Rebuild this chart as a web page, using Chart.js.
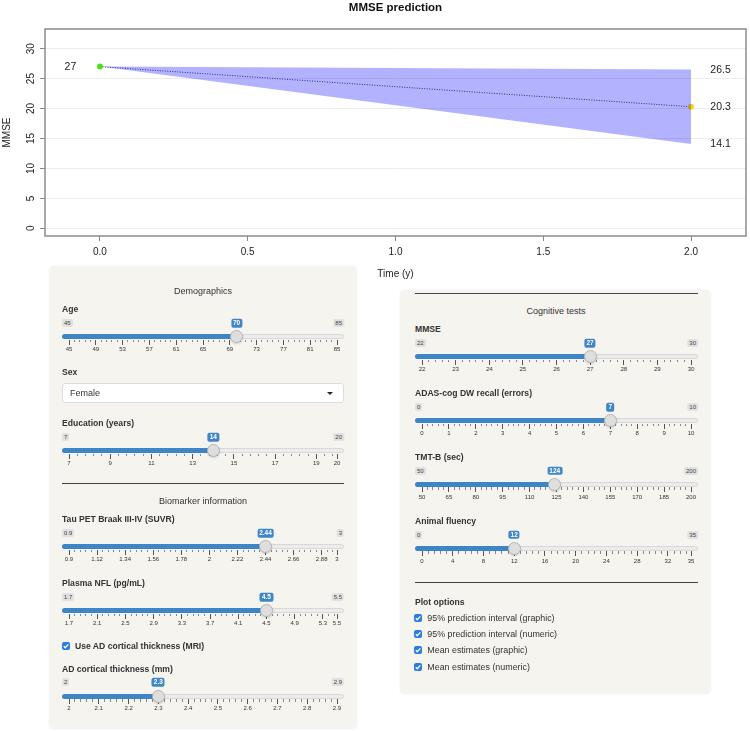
<!DOCTYPE html>
<html>
<head>
<meta charset="utf-8">
<script src="https://cdn.jsdelivr.net/npm/chart.js@4.4.1/dist/chart.umd.min.js"></script>
<style>
  html,body{margin:0;padding:0;background:#fff;}
  body{font-family:"Liberation Sans",Arial,sans-serif;color:#333;}
  #wrap{position:relative;width:750px;height:731px;overflow:hidden;}
  #chartBox{position:absolute;left:0;top:0;width:750px;height:285px;}
  .panel{position:absolute;background:#f6f4ef;box-shadow:0 0 3px rgba(0,0,0,0.13);border-radius:3px;}
</style>
</head>
<body>
<div id="wrap">
  <div id="chartBox"><canvas id="c" width="750" height="285"></canvas></div>
  <div class="panel" style="left:50px;top:267px;width:306px;height:461px;"></div>
  <div class="panel" style="left:401px;top:291px;width:309px;height:402px;"></div>
  <div id="ui"></div>
</div>
<script>
// ---------------- chart data ----------------
const chartTitle = 'MMSE prediction';
const xTitle = 'Time (y)';
const yTitle = 'MMSE';
const times = [0, 2];
const meanVals = [27, 20.3];
const upperVals = [27, 26.5];
const lowerVals = [27, 14.1];
const pointColors = ['#4be21a', '#ffd500'];
const xRange = [-0.186, 2.186];
const yRange = [-1.28, 33.28];
const startLabelX = -0.1;
const endLabelX = 2.1;

// ---------------- UI data ----------------
const leftSliders = [
  {name:'Age', y:336.7, min:45, max:85, val:70, ticks:[45,49,53,57,61,65,69,73,77,81,85]},
  {name:'Education (years)', y:450.7, min:7, max:20, val:14, ticks:[7,9,11,13,15,17,19,20]},
  {name:'Tau PET Braak III-IV (SUVR)', y:546.7, min:0.9, max:3, val:2.44, ticks:[0.9,1.12,1.34,1.56,1.78,2,2.22,2.44,2.66,2.88,3]},
  {name:'Plasma NFL (pg/mL)', y:610.7, min:1.7, max:5.5, val:4.5, ticks:[1.7,2.1,2.5,2.9,3.3,3.7,4.1,4.5,4.9,5.3,5.5]},
  {name:'AD cortical thickness (mm)', y:696, min:2, max:2.9, val:2.3, ticks:[2,2.1,2.2,2.3,2.4,2.5,2.6,2.7,2.8,2.9]}
];
const rightSliders = [
  {name:'MMSE', y:356.7, min:22, max:30, val:27, ticks:[22,23,24,25,26,27,28,29,30]},
  {name:'ADAS-cog DW recall (errors)', y:420.7, min:0, max:10, val:7, ticks:[0,1,2,3,4,5,6,7,8,9,10]},
  {name:'TMT-B (sec)', y:484.3, min:50, max:200, val:124, ticks:[50,65,80,95,110,125,140,155,170,185,200]},
  {name:'Animal fluency', y:548.3, min:0, max:35, val:12, ticks:[0,4,8,12,16,20,24,28,32,35]}
];
const plotOptions = ['95% prediction interval (graphic)','95% prediction interval (numeric)','Mean estimates (graphic)','Mean estimates (numeric)'];

// ---------------- chart ----------------
const FONT = '"Liberation Sans", Arial, sans-serif';
Chart.defaults.font.family = FONT;
const pts = vals => times.map((t,i)=>({x:t, y:vals[i]}));

const decor = {
  id:'decor',
  afterDraw(chart){
    const {ctx, chartArea:a, scales:{x, y}} = chart;
    ctx.save();
    ctx.strokeStyle = '#8c8c8c';
    ctx.lineWidth = 1.5;
    ctx.strokeRect(a.left, a.top, a.right - a.left, a.bottom - a.top);
    ctx.fillStyle = '#111';
    ctx.textAlign = 'center';
    ctx.textBaseline = 'middle';
    ctx.font = 'bold 11.5px ' + FONT;
    ctx.fillText(chartTitle, (a.left + a.right) / 2, 7.5);
    ctx.font = '10px ' + FONT;
    ctx.fillStyle = '#222';
    y.ticks.forEach(t => {
      ctx.save();
      ctx.translate(31, y.getPixelForValue(t.value));
      ctx.rotate(-Math.PI / 2);
      ctx.fillText(String(t.value), 0, 0);
      ctx.restore();
    });
    ctx.font = '10.5px ' + FONT;
    ctx.fillText(String(meanVals[0]), x.getPixelForValue(startLabelX), y.getPixelForValue(meanVals[0]));
    const last = times.length - 1;
    [upperVals[last], meanVals[last], lowerVals[last]].forEach(v => {
      ctx.fillText(v.toFixed(1), x.getPixelForValue(endLabelX), y.getPixelForValue(v));
    });
    ctx.restore();
  }
};

new Chart(document.getElementById('c'), {
  type:'line',
  data:{
    datasets:[
      {label:'lower', data:pts(lowerVals), borderWidth:0, borderColor:'transparent', pointRadius:0, fill:false, tension:0},
      {label:'upper', data:pts(upperVals), borderWidth:0, borderColor:'transparent', pointRadius:0, fill:'-1', backgroundColor:'rgba(0,0,255,0.3)', tension:0},
      {label:'mean', data:pts(meanVals), borderWidth:1, borderColor:'#3c3c62', borderDash:[1,1.5], tension:0,
       pointRadius:3, pointBorderWidth:0, pointBackgroundColor:pointColors, fill:false}
    ]
  },
  options:{
    responsive:false, animation:false, devicePixelRatio:1,
    layout:{padding:{top:29, right:4, bottom:0, left:0}},
    plugins:{legend:{display:false}, tooltip:{enabled:false}},
    scales:{
      x:{type:'linear', min:xRange[0], max:xRange[1],
         afterFit(s){ s.height = 49; },
         border:{display:false},
         grid:{drawOnChartArea:false, tickLength:5, color:'#888', tickColor:'#888'},
         ticks:{stepSize:0.5, includeBounds:false, padding:5, color:'#222', font:{size:10},
                callback:v=>Number(v).toFixed(1), maxRotation:0},
         title:{display:true, text:xTitle, color:'#222', font:{size:10}, padding:{top:4, bottom:5}}},
      y:{type:'linear', min:yRange[0], max:yRange[1],
         afterFit(s){ s.width = 45; },
         border:{display:false},
         grid:{color:'#ececec', tickColor:'#888', tickLength:5},
         ticks:{stepSize:5, includeBounds:false, display:false},
         title:{display:true, text:yTitle, color:'#222', font:{size:10}, padding:{top:1, bottom:0}}}
    }
  },
  plugins:[decor]
});

// ---------------- UI ----------------
const UI = document.getElementById('ui');
function el(style, text){
  const e = document.createElement('div');
  e.style.position = 'absolute';
  e.style.whiteSpace = 'nowrap';
  Object.assign(e.style, style);
  if (text != null) e.textContent = text;
  UI.appendChild(e);
  return e;
}
function ltext(x, y, t, size, bold, color){
  return el({left:x+'px', top:y+'px', transform:'translateY(-50%)', font:(bold?'bold ':'')+size+'px '+FONT, color:color||'#333', lineHeight:'1'}, t);
}
function ctext(x, y, t, size, bold, color){
  return el({left:x+'px', top:y+'px', transform:'translate(-50%,-50%)', font:(bold?'bold ':'')+size+'px '+FONT, color:color||'#333', lineHeight:'1'}, t);
}
function hr(x0, x1, y){
  el({left:x0+'px', top:(y-0.5)+'px', width:(x1-x0)+'px', height:'1px', background:'#444'});
}
function checkbox(cx, cy){
  const e = el({left:(cx-4)+'px', top:(cy-4)+'px', width:'8px', height:'8px', background:'#2b7de3', borderRadius:'2px'});
  e.innerHTML = '<svg width="8" height="8" viewBox="0 0 8 8" style="display:block"><path d="M1.8 4.2 L3.3 5.7 L6.3 2.4" stroke="#fff" stroke-width="1.3" fill="none"/></svg>';
}
function fmt(v){ return String(Math.round(v*1000)/1000); }
function slider(s, x0, x1, labelX){
  ltext(labelX, s.y - 27.5, s.name, 8.6, true, '#333');
  const g0 = x0 + 7, g1 = x1 - 7;
  const pos = v => g0 + (v - s.min) / (s.max - s.min) * (g1 - g0);
  const hx = pos(s.val);
  // track
  el({left:x0+'px', top:(s.y-2.5)+'px', width:(x1-x0)+'px', height:'5px', boxSizing:'border-box',
      background:'#ececec', border:'1px solid #d8d8d8', borderRadius:'3px'});
  el({left:x0+'px', top:(s.y-2.5)+'px', width:(hx-x0)+'px', height:'5px', background:'#3d85c6', borderRadius:'3px 0 0 3px'});
  // grid
  const minorStep = (s.ticks[1] - s.ticks[0]) / 5;
  for (let i = 0; i < s.ticks.length; i++){
    const v = s.ticks[i];
    el({left:(pos(v)-0.5)+'px', top:(s.y+3)+'px', width:'1px', height:'5px', background:'#555'});
    ctext(pos(v), s.y+12.3, fmt(v), 6, false, '#333');
    if (i < s.ticks.length - 1){
      for (let k = 1; k <= 4; k++){
        const m = v + k * minorStep;
        if (m < s.ticks[i+1] - 1e-9){
          el({left:(pos(m)-0.5)+'px', top:(s.y+3)+'px', width:'1px', height:'2.5px', background:'#888'});
        }
      }
    }
  }
  // min / max boxes
  el({left:x0+'px', top:(s.y-13.7)+'px', transform:'translateY(-50%)', font:'6px '+FONT, color:'#444',
      background:'#e0e0e0', padding:'1px 2px', borderRadius:'2px', lineHeight:'1'}, fmt(s.min));
  el({left:x1+'px', top:(s.y-13.7)+'px', transform:'translate(-100%,-50%)', font:'6px '+FONT, color:'#444',
      background:'#e0e0e0', padding:'1px 2px', borderRadius:'2px', lineHeight:'1'}, fmt(s.max));
  // value box
  el({left:hx+'px', top:(s.y-13.7)+'px', transform:'translate(-50%,-50%)', font:'bold 6.5px '+FONT, color:'#fff',
      background:'#3f86c8', padding:'1px 2px', borderRadius:'2px', lineHeight:'1'}, fmt(s.val));
  // handle
  el({left:(hx-6.5)+'px', top:(s.y-6.5)+'px', width:'13px', height:'13px', boxSizing:'border-box', borderRadius:'50%',
      background:'#dedede', border:'1px solid #b5b5b5', boxShadow:'0 1px 2px rgba(0,0,0,0.15)'});
}

// left panel
ctext(203, 291, 'Demographics', 9, false, '#333');
slider(leftSliders[0], 62, 344, 62);
ltext(62, 372, 'Sex', 8.6, true);
el({left:'62px', top:'382.7px', width:'282px', height:'20.6px', boxSizing:'border-box', background:'#fff',
    border:'1px solid #dcdcdc', borderRadius:'3px'});
ltext(70, 393, 'Female', 9, false, '#333');
el({left:'326.5px', top:'391.5px', width:'0', height:'0', borderLeft:'3px solid transparent', borderRight:'3px solid transparent', borderTop:'3.5px solid #222'});
slider(leftSliders[1], 62, 344, 62);
hr(62, 344, 483.3);
ctext(203, 501, 'Biomarker information', 9, false, '#333');
slider(leftSliders[2], 62, 344, 62);
slider(leftSliders[3], 62, 344, 62);
checkbox(65.7, 646);
ltext(75, 646, 'Use AD cortical thickness (MRI)', 8.6, true);
slider(leftSliders[4], 62, 344, 62);

// right panel
hr(415, 698, 293);
ctext(556, 311, 'Cognitive tests', 9, false, '#333');
rightSliders.forEach(s => slider(s, 415, 698, 415));
hr(415, 698, 582.3);
ltext(415, 602.3, 'Plot options', 8.6, true);
const optY = [618.3, 634.2, 650.2, 666.5];
plotOptions.forEach((t, i) => { checkbox(417.7, optY[i]); ltext(427.3, optY[i], t, 8.9, false, '#333'); });
</script>
</body>
</html>
